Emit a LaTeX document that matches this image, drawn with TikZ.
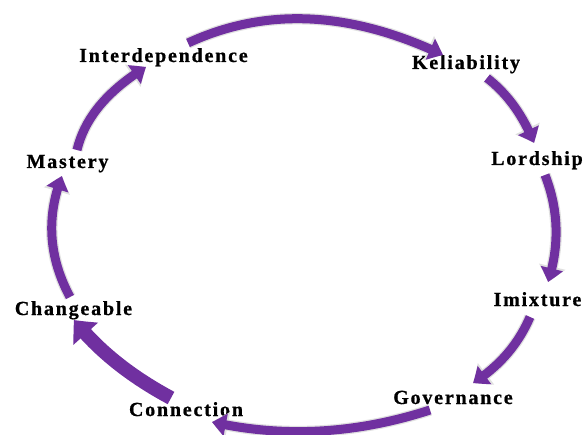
\documentclass[tikz,border=0pt]{standalone}
\usepackage{fontspec}
\newfontfamily\labfont{Liberation Serif}[LetterSpace=9,FakeBold=0.8]
\usetikzlibrary{arrows.meta,bending}
\definecolor{cyclepurple}{RGB}{112,48,160}
\tikzset{
  lab/.style={font=\labfont\bfseries\fontsize{20}{24}\selectfont, inner sep=0pt, anchor=base, text=black},
  cyc/.style={draw=cyclepurple, line width=9pt, line cap=butt,
    -{Triangle[width=22pt,length=14pt,bend]},
    preaction={draw=black!12, line width=11.5pt, -{Triangle[width=26pt,length=16pt,bend]}}},
  cycbig/.style={draw=cyclepurple, line width=14pt, line cap=butt,
    -{Triangle[width=32pt,length=18pt,bend]}}
}
\begin{document}
\begin{tikzpicture}[x=1pt,y=-1pt]
\useasboundingbox[fill=white] (0,0) rectangle (585,435);
% labels
\node[lab] (inter) at (163.5,62) {Interdependence};
\node[lab] (keli) at (466,69) {Keliability};
\node[lab] (lord) at (537,165) {Lordship};
\node[lab] (imix) at (537.5,306) {Imixture};
\node[lab] (gov) at (453,404) {Governance};
\node[lab] (conn) at (186,416) {Connection};
\node[lab] (chg) at (73.5,315) {Changeable};
\node[lab] (mast) at (67.5,168) {Mastery};
% arrow end points
\coordinate (a1s) at (188,43);  \coordinate (a1e) at (443,55);
\coordinate (a2s) at (487,78);  \coordinate (a2e) at (534,143);
\coordinate (a3s) at (545,175); \coordinate (a3e) at (548,282);
\coordinate (a4s) at (530,317); \coordinate (a4e) at (473,383);
\coordinate (a5s) at (430,410); \coordinate (a5e) at (212,422);
\coordinate (a6s) at (171,398); \coordinate (a6e) at (74,320);
\coordinate (a7s) at (70,297);  \coordinate (a7e) at (62,176);
\coordinate (a8s) at (77,150);  \coordinate (a8e) at (146,67);
% arrows
\draw[cyc] (a1s) .. controls (265.7,7) and (350.7,11) .. (a1e);
\draw[cyc] (a2s) .. controls (507.3,93.7) and (523,115.3) .. (a2e);
\draw[cyc] (a3s) .. controls (558.7,210) and (559.7,245.7) .. (a3e);
\draw[cyc] (a4s) .. controls (518.3,344.3) and (499.3,366.3) .. (a4e);
\draw[cyc] (a5s) .. controls (356,434) and (283.3,438) .. (a5e);
\draw[cycbig] (a6s) .. controls (130,376) and (97.7,350) .. (a6e);
\draw[cyc] (a7s) .. controls (48.7,257.3) and (46,217) .. (a7e);
\draw[cyc] (a8s) .. controls (84.7,117.7) and (107.7,90.7) .. (a8e);
\end{tikzpicture}
\end{document}
